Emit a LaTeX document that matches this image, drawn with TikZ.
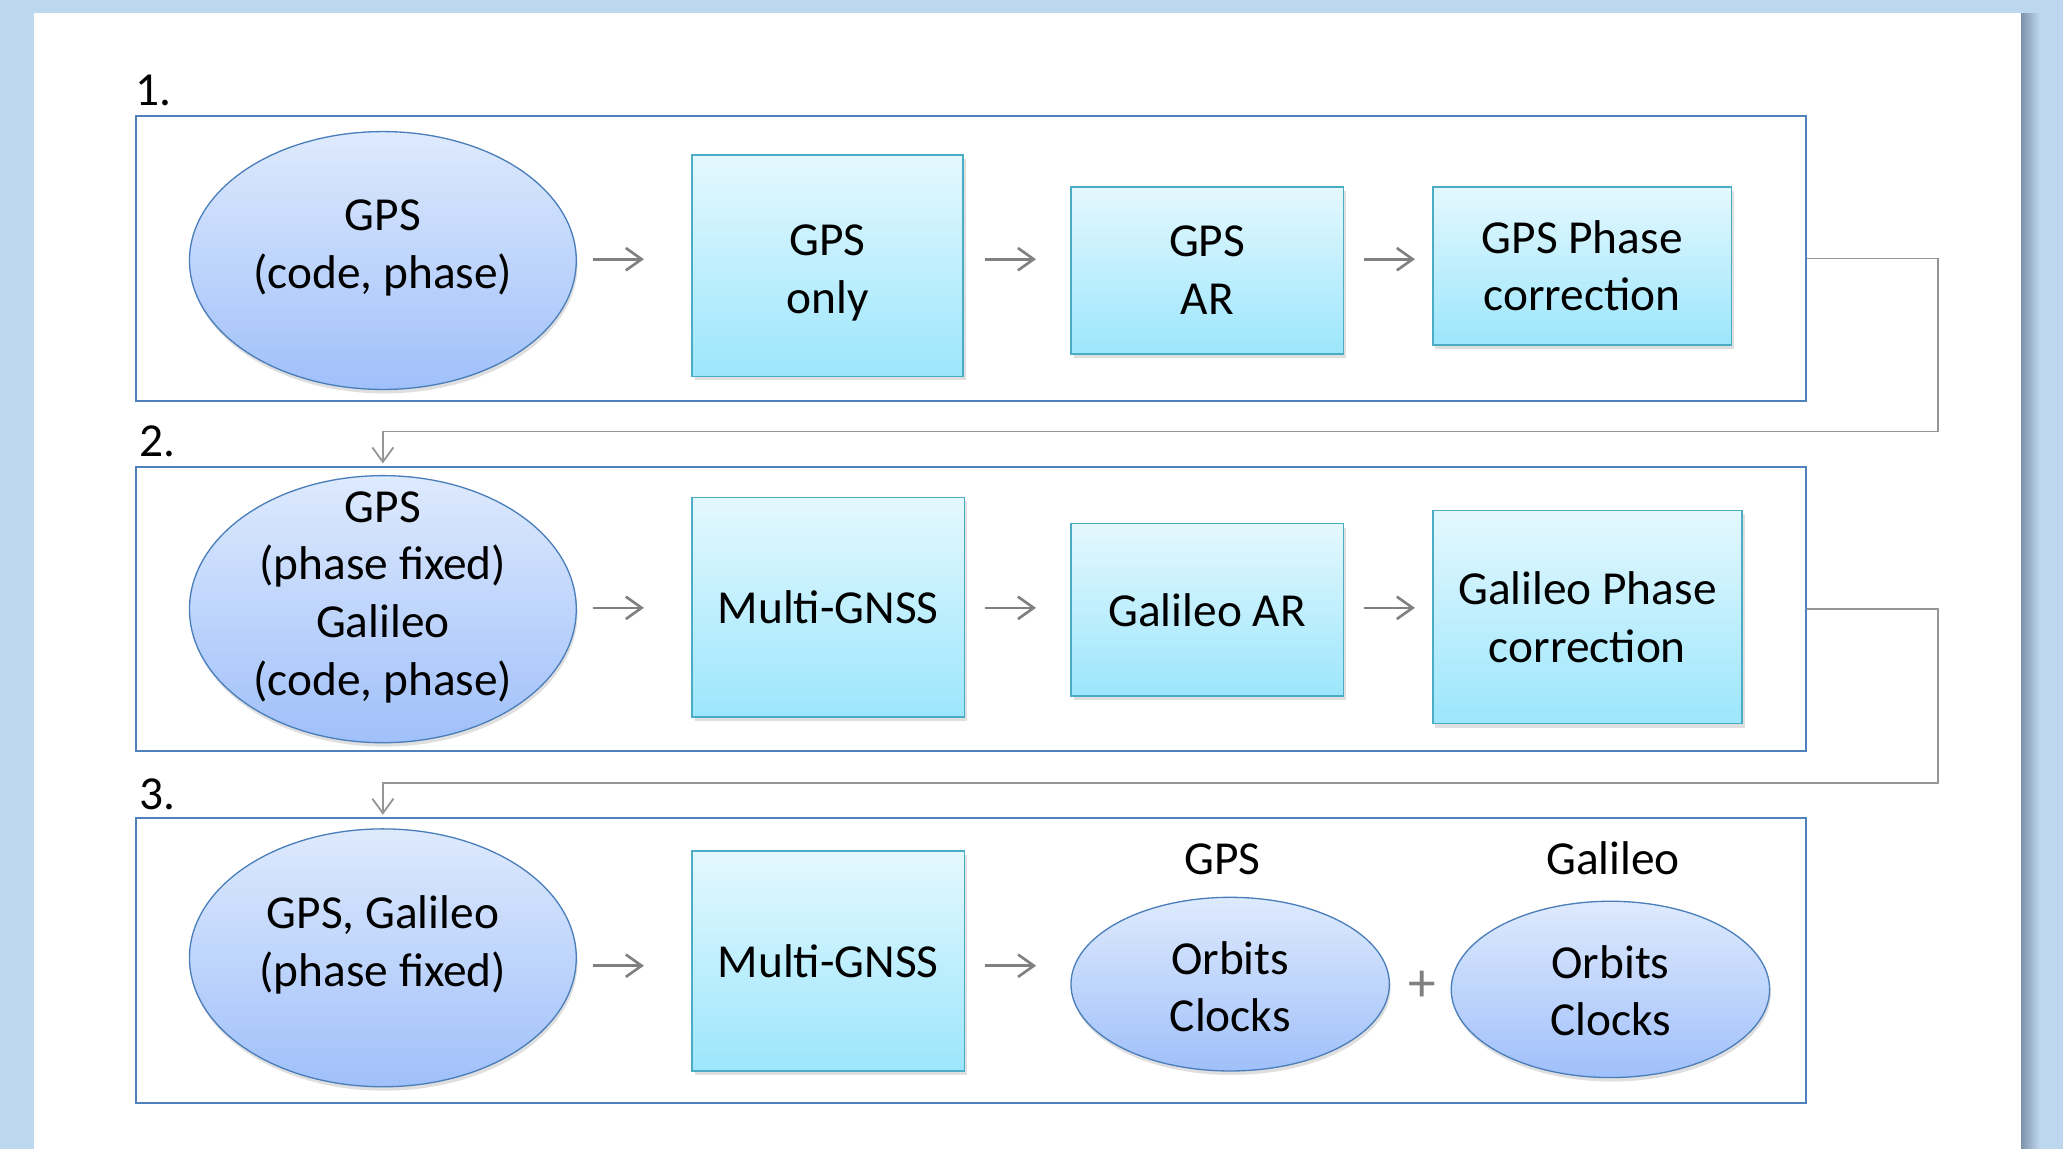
\documentclass[tikz,border=0pt]{standalone}
\usepackage{fontspec}
\setmainfont{Carlito}
\usetikzlibrary{arrows.meta,shadows,calc,shapes.geometric}
\definecolor{bgblue}{RGB}{189,215,238}
\definecolor{frameblue}{RGB}{79,129,189}
\definecolor{ellstroke}{RGB}{74,126,187}
\definecolor{elltop}{RGB}{222,234,253}
\definecolor{ellbot}{RGB}{160,192,250}
\definecolor{recttop}{RGB}{228,248,254}
\definecolor{rectbot}{RGB}{156,230,252}
\definecolor{rectstroke}{RGB}{75,172,198}
\definecolor{arrgray}{RGB}{128,128,128}
\definecolor{conngray}{RGB}{150,150,150}
\definecolor{pageshadow}{RGB}{125,145,170}
\tikzset{
  txt/.style={font=\fontsize{36}{44}\selectfont, align=center, inner sep=0pt},
  frame/.style={draw=frameblue, line width=1.5pt, inner sep=0pt},
  ell/.style={ellipse, draw=ellstroke, line width=1pt, top color=elltop, bottom color=ellbot, inner sep=0pt,
    drop shadow={shadow xshift=1pt, shadow yshift=-3pt, opacity=0.25}},
  stepbox/.style={rectangle, draw=rectstroke, line width=1.2pt, top color=recttop, bottom color=rectbot, inner sep=0pt,
    drop shadow={shadow xshift=2pt, shadow yshift=-3pt, opacity=0.25}, font=\fontsize{36}{44}\selectfont, align=center},
  arr/.style={draw=arrgray, line width=2pt, -{Straight Barb[length=12pt,width=17pt,line width=2pt]}},
  conn/.style={draw=conngray, line width=1.1pt, -{Straight Barb[length=11pt,width=16pt,line width=1.4pt]}},
}
\begin{document}
\begin{tikzpicture}[x=1pt,y=-1pt]
\useasboundingbox (0,0) rectangle (1568,873);
% background and page
\fill[bgblue] (0,0) rectangle (1568,873);
\shade[left color=pageshadow, right color=bgblue] (1536,10) rectangle (1550,873);
\fill[white] (26,10) rectangle (1536,873);

% section labels
\node[txt, anchor=base west] (l1) at (103,80) {1.};
\node[txt, anchor=base west] (l2) at (106,347) {2.};
\node[txt, anchor=base west] (l3) at (106,615) {3.};

% frames
\node[frame, minimum width=1270pt, minimum height=217pt] (box1) at (738,196.5) {};
\node[frame, minimum width=1270pt, minimum height=216pt] (box2) at (738,463) {};
\node[frame, minimum width=1270pt, minimum height=216pt] (box3) at (738,730) {};

% row 1
\node[ell, minimum width=294pt, minimum height=196pt] (e1) at (291,198) {};
\node[txt] (e1t) at (291,188.5) {GPS\\(code, phase)};
\node[stepbox, minimum width=206pt, minimum height=168pt] (r1) at (629,202) {\rule{0pt}{34pt}GPS\\only};
\node[stepbox, minimum width=207pt, minimum height=127pt] (r2) at (917.5,205.5) {GPS\\AR};
\node[stepbox, minimum width=227pt, minimum height=120pt] (r3) at (1202.5,202) {GPS Phase\\correction};

\draw[arr] ($(e1.east)+(12,-1)$) -- ($(r1.west)+(-36,-5)$);
\draw[arr] ($(r1.east)+(16,-5)$) -- ($(r2.west)+(-26,-8.5)$);
\draw[arr] ($(r2.east)+(15,-8.5)$) -- ($(r3.west)+(-13,-5)$);

% row 2
\node[ell, minimum width=294pt, minimum height=203pt] (e2) at (291,463) {};
\node[txt] (e2t) at (291,454) {GPS\\(phase fixed)\\Galileo\\(code, phase)};
\node[stepbox, minimum width=207pt, minimum height=167pt] (m2) at (629.5,461.5) {Multi-GNSS};
\node[stepbox, minimum width=207pt, minimum height=131pt] (g2) at (917.5,463.5) {Galileo AR};
\node[stepbox, minimum width=235pt, minimum height=162pt] (p2) at (1206.5,469) {Galileo Phase\\correction};

\draw[arr] ($(e2.east)+(12,-1)$) -- ($(m2.west)+(-36,0.5)$);
\draw[arr] ($(m2.east)+(15,0.5)$) -- ($(g2.west)+(-26,-1.5)$);
\draw[arr] ($(g2.east)+(15,-1.5)$) -- ($(p2.west)+(-13,-7)$);

% row 3
\node[ell, minimum width=294pt, minimum height=196pt] (e3) at (291,728) {};
\node[txt] (e3t) at (291,718) {GPS, Galileo\\(phase fixed)};
\node[stepbox, minimum width=207pt, minimum height=167pt] (m3) at (629.5,730.5) {Multi-GNSS};
\node[ell, minimum width=242pt, minimum height=132pt] (o1) at (935,748) {};
\node[txt] (o1t) at (935,750) {Orbits\\Clocks};
\node[ell, minimum width=242pt, minimum height=134pt] (o2) at (1224,752) {};
\node[txt] (o2t) at (1224,753) {Orbits\\Clocks};
\node[txt, anchor=base] (gpsl) at (929,665) {GPS};
\node[txt, anchor=base] (gall) at (1226,665) {Galileo};
\node[font=\fontsize{42}{42}\selectfont, text=arrgray, inner sep=0pt] (plus) at (1081,750) {+};

\draw[arr] ($(e3.east)+(12,6)$) -- ($(m3.west)+(-36,3.5)$);
\draw[arr] ($(m3.east)+(15,3.5)$) -- ($(o1.west)+(-26,-14)$);

% connectors between sections
\draw[conn] (box1.east) -| (1473,328) -| ($(e2.north|-box2.north)+(0,-2)$);
\draw[conn] (box2.east) -| (1473,595) -| ($(e3.north|-box3.north)+(0,-2)$);
\end{tikzpicture}
\end{document}
